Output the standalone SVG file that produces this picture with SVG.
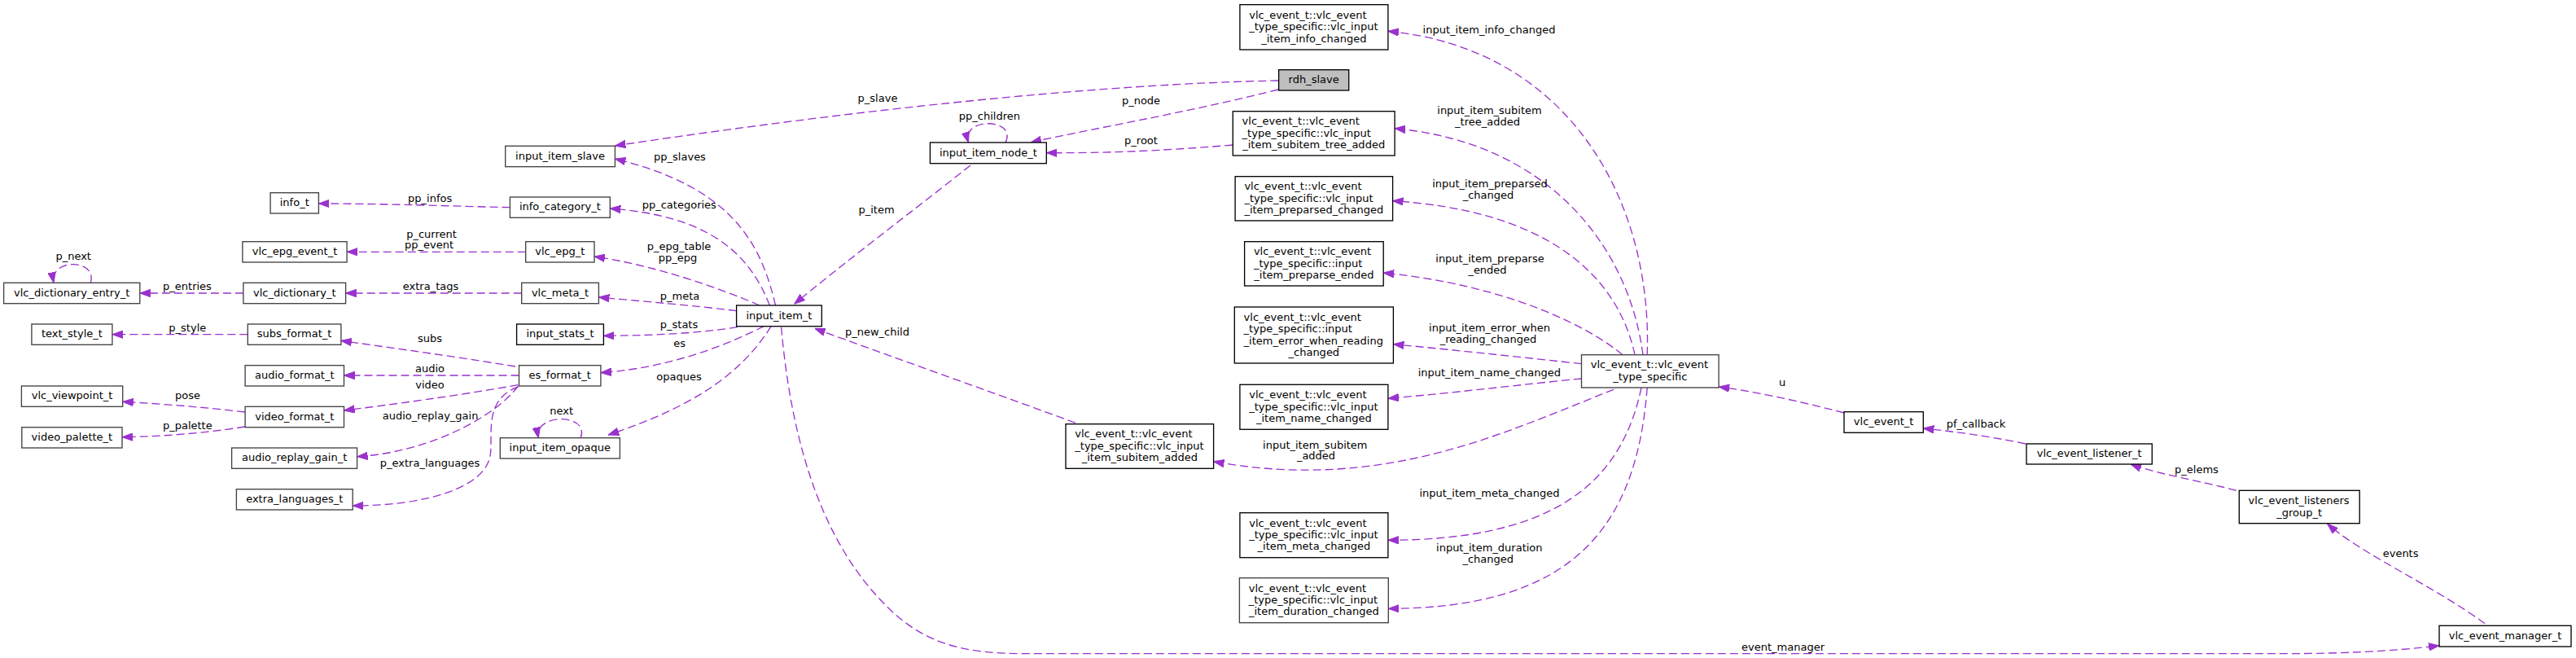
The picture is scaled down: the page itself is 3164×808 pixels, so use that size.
<svg xmlns="http://www.w3.org/2000/svg" width="3164" height="808" viewBox="0 0 3164 808">
<style>
text{font-family:"DejaVu Sans","Liberation Sans",sans-serif;font-size:13px;fill:#000}
.lbl{text-anchor:middle}
.c{text-anchor:middle}
.l{text-anchor:start}
.box{fill:#fff;stroke:#404040;stroke-width:1.33}
.bk{fill:#fff;stroke:#000;stroke-width:1.33}
.edge{fill:none;stroke:#9a32cd;stroke-width:1.33;stroke-dasharray:10,5;marker-end:url(#ah)}
</style>
<defs>
<marker id="ah" viewBox="0 0 13 10" refX="13" refY="5" markerWidth="13" markerHeight="10" markerUnits="userSpaceOnUse" orient="auto">
<path d="M0,0.3 L13,5 L0,9.7 z" fill="#9a32cd" stroke="#9a32cd" stroke-width="1"/>
</marker>
</defs>
<rect width="3164" height="808" fill="#fff"/>
<g id="edges">
<g id="e_p_slave"><path class="edge" d="M1570,99 C1350,103 1050,135 755.4,179"/><text class="lbl" x="1078" y="125">p_slave</text></g>
<g id="e_p_node"><path class="edge" d="M1570,110 C1450,140 1330,160 1266,175"/><text class="lbl" x="1401.5" y="128">p_node</text></g>
<g id="e_pp_children"><path class="edge" d="M1235,175 C1250,145 1180,143 1189.5,175"/><text class="lbl" x="1215.4" y="146.5">pp_children</text></g>
<g id="e_p_root"><path class="edge" d="M1514.3,178 C1420,186 1350,188 1285.3,187.7"/><text class="lbl" x="1401.5" y="176.5">p_root</text></g>
<g id="e_p_item"><path class="edge" d="M1192,203 C1120,260 1040,320 975.7,373.3"/><text class="lbl" x="1076.5" y="261.5">p_item</text></g>
<g id="e_pp_slaves"><path class="edge" d="M952.5,375 C935,300 900,230 755.4,195"/><text class="lbl" x="835" y="196.5">pp_slaves</text></g>
<g id="e_pp_categories"><path class="edge" d="M945.4,375 C920,310 870,265 749.3,256"/><text class="lbl" x="834.3" y="256">pp_categories</text></g>
<g id="e_p_epg"><path class="edge" d="M932.9,375 C880,352 800,325 730,315"/><text class="lbl" x="834" y="306.5">p_epg_table</text><text class="lbl" x="832.6" y="321">pp_epg</text></g>
<g id="e_p_meta"><path class="edge" d="M904.6,381.7 C850,375 790,370 735.4,365"/><text class="lbl" x="835" y="367.5">p_meta</text></g>
<g id="e_p_stats"><path class="edge" d="M906,401.7 C850,410 800,412 741.4,412.3"/><text class="lbl" x="834" y="402.5">p_stats</text></g>
<g id="e_es"><path class="edge" d="M938.2,400.7 C890,425 820,452 737.9,457.7"/><text class="lbl" x="834.6" y="426">es</text></g>
<g id="e_opaques"><path class="edge" d="M947.1,400.7 C910,460 850,500 747.1,534"/><text class="lbl" x="834" y="467">opaques</text></g>
<g id="e_next"><path class="edge" d="M713.2,537.7 C725,507 655,507 661.4,537.7"/><text class="lbl" x="689.7" y="509">next</text></g>
<g id="e_event_manager"><path class="edge" d="M959.6,401.7 C970,520 1000,650 1080,735 C1130,790 1180,802.7 1260,802.7 L2800,802.7 C2870,802.7 2940,800 2996,792.7"/><text class="lbl" x="2190" y="799">event_manager</text></g>
<g id="e_events"><path class="edge" d="M3052,765.7 C2990,720 2900,680 2858.7,643.3"/><text class="lbl" x="2948.6" y="684">events</text></g>
<g id="e_p_elems"><path class="edge" d="M2746.8,602.3 C2700,590 2650,582 2617,570"/><text class="lbl" x="2698" y="580.5">p_elems</text></g>
<g id="e_pf_callback"><path class="edge" d="M2488,545 C2440,535 2400,530 2362.3,526"/><text class="lbl" x="2427" y="525">pf_callback</text></g>
<g id="e_u"><path class="edge" d="M2265,507 C2200,490 2150,480 2111.1,475"/><text class="lbl" x="2189" y="474">u</text></g>
<g id="e_info_changed"><path class="edge" d="M2023.2,435.7 C2030,250 1930,60 1704.9,38.3"/><text class="lbl" x="1829" y="40.5">input_item_info_changed</text></g>
<g id="e_tree_added"><path class="edge" d="M2018,435.7 C2000,300 1900,175 1713.1,157.7"/><text class="lbl" x="1829.5" y="140">input_item_subitem</text><text class="lbl" x="1827" y="154">_tree_added</text></g>
<g id="e_preparsed"><path class="edge" d="M2008,435.7 C1985,330 1890,258 1710.6,246.7"/><text class="lbl" x="1830" y="230">input_item_preparsed</text><text class="lbl" x="1828" y="244">_changed</text></g>
<g id="e_preparse_ended"><path class="edge" d="M1993,435.7 C1950,400 1850,350 1699.2,335"/><text class="lbl" x="1830" y="322">input_item_preparse</text><text class="lbl" x="1827" y="336">_ended</text></g>
<g id="e_error"><path class="edge" d="M1942.5,446.7 C1880,440 1790,430 1711.4,422.7"/><text class="lbl" x="1829.5" y="406.5">input_item_error_when</text><text class="lbl" x="1827.9" y="420.5">_reading_changed</text></g>
<g id="e_name_changed"><path class="edge" d="M1942.5,465 C1870,472 1790,482 1704.9,489.3"/><text class="lbl" x="1829.3" y="462">input_item_name_changed</text></g>
<g id="e_subitem_added"><path class="edge" d="M1982,478.3 C1850,530 1700,605 1490.6,566.7"/><text class="lbl" x="1615.3" y="550.5">input_item_subitem</text><text class="lbl" x="1616.5" y="564">_added</text></g>
<g id="e_meta_changed"><path class="edge" d="M2016,476 C1990,600 1900,663 1704.9,663.3"/><text class="lbl" x="1829.5" y="610">input_item_meta_changed</text></g>
<g id="e_duration"><path class="edge" d="M2023.2,476 C2010,650 1930,747 1705.3,747.3"/><text class="lbl" x="1829.3" y="676.5">input_item_duration</text><text class="lbl" x="1827.7" y="690.8">_changed</text></g>
<g id="e_p_new_child"><path class="edge" d="M1320.8,519.3 C1220,482 1100,440 1000.7,403.3"/><text class="lbl" x="1077.5" y="411.5">p_new_child</text></g>
<g id="e_pp_infos"><path class="edge" d="M626.4,254.7 C550,253 470,250 391.4,250"/><text class="lbl" x="528.2" y="248">pp_infos</text></g>
<g id="e_p_current"><path class="edge" d="M645.7,309.3 L426.1,309.3"/><text class="lbl" x="530" y="291.5">p_current</text><text class="lbl" x="527" y="305">pp_event</text></g>
<g id="e_extra_tags"><path class="edge" d="M640.7,360 L424.6,360"/><text class="lbl" x="529" y="356">extra_tags</text></g>
<g id="e_p_entries"><path class="edge" d="M298.9,360 L171.8,360"/><text class="lbl" x="230" y="356">p_entries</text></g>
<g id="e_p_next"><path class="edge" d="M111.4,347.3 C120,317 60,317 66,347.3"/><text class="lbl" x="90.2" y="319">p_next</text></g>
<g id="e_p_style"><path class="edge" d="M304.3,410.7 L137.9,410.7"/><text class="lbl" x="230.3" y="406.5">p_style</text></g>
<g id="e_subs"><path class="edge" d="M632.9,450 C560,438 480,427 418.9,418.3"/><text class="lbl" x="528" y="420">subs</text></g>
<g id="e_audio"><path class="edge" d="M637.5,461 L422.5,461"/><text class="lbl" x="528" y="456.5">audio</text></g>
<g id="e_video"><path class="edge" d="M636.4,472.7 C560,486 480,497 422.5,504"/><text class="lbl" x="528" y="477">video</text></g>
<g id="e_audio_replay_gain"><path class="edge" d="M636.4,474 C610,510 530,555 438.6,560.7"/><text class="lbl" x="528.6" y="515">audio_replay_gain</text></g>
<g id="e_p_extra_languages"><path class="edge" d="M636.4,475 C595,490 605,530 602.5,556.7 C598,600 520,621 433.2,621"/><text class="lbl" x="528" y="573">p_extra_languages</text></g>
<g id="e_pose"><path class="edge" d="M301.1,506 C250,500 200,496 150.7,493.3"/><text class="lbl" x="230.5" y="490.4">pose</text></g>
<g id="e_p_palette"><path class="edge" d="M301.1,524 C250,532 200,536 150,536.7"/><text class="lbl" x="230.3" y="526.5">p_palette</text></g>
</g>
<g id="n_rdh_slave"><rect x="1570.6" y="85.7" width="86.1" height="25.3" fill="#bfbfbf" stroke="#000" stroke-width="1.33"/><text class="c" x="1613.65" y="102.15">rdh_slave</text></g>
<g id="n_input_item_slave"><rect class="box" x="620.7" y="179.3" width="134.7" height="25.4"/><text class="c" x="688.05" y="195.8">input_item_slave</text></g>
<g id="n_info_category_t"><rect class="box" x="626.4" y="242" width="122.9" height="25.3"/><text class="c" x="687.85" y="258.45">info_category_t</text></g>
<g id="n_vlc_epg_t"><rect class="box" x="645.7" y="296.7" width="84.3" height="25.3"/><text class="c" x="687.85" y="313.15">vlc_epg_t</text></g>
<g id="n_vlc_meta_t"><rect class="box" x="640.7" y="347.3" width="94.7" height="25.4"/><text class="c" x="688.05" y="363.8">vlc_meta_t</text></g>
<g id="n_input_item_t"><rect class="bk" x="904.6" y="375" width="104.7" height="25.7"/><text class="c" x="956.95" y="391.65">input_item_t</text></g>
<g id="n_input_stats_t"><rect class="bk" x="634.6" y="398" width="106.8" height="25.3"/><text class="c" x="688" y="414.45">input_stats_t</text></g>
<g id="n_es_format_t"><rect class="box" x="637.5" y="448.7" width="100.4" height="25.3"/><text class="c" x="687.7" y="465.15">es_format_t</text></g>
<g id="n_input_item_opaque"><rect class="box" x="614.3" y="537.7" width="147.1" height="25.3"/><text class="c" x="687.85" y="554.15">input_item_opaque</text></g>
<g id="n_input_item_node_t"><rect class="bk" x="1142.4" y="175" width="142.9" height="25.7"/><text class="c" x="1213.85" y="191.65">input_item_node_t</text></g>
<g id="n_info_t"><rect class="box" x="332.1" y="236.7" width="59.3" height="25.3"/><text class="c" x="361.75" y="253.15">info_t</text></g>
<g id="n_vlc_epg_event_t"><rect class="box" x="297.9" y="296.7" width="128.2" height="25.3"/><text class="c" x="362" y="313.15">vlc_epg_event_t</text></g>
<g id="n_vlc_dictionary_entry_t"><rect class="box" x="4.6" y="347.3" width="167.2" height="25.4"/><text class="c" x="88.2" y="363.8">vlc_dictionary_entry_t</text></g>
<g id="n_vlc_dictionary_t"><rect class="box" x="298.9" y="347.3" width="125.7" height="25.4"/><text class="c" x="361.75" y="363.8">vlc_dictionary_t</text></g>
<g id="n_text_style_t"><rect class="box" x="38.9" y="398" width="99" height="25.3"/><text class="c" x="88.4" y="414.45">text_style_t</text></g>
<g id="n_subs_format_t"><rect class="box" x="304.3" y="398" width="114.6" height="25.3"/><text class="c" x="361.6" y="414.45">subs_format_t</text></g>
<g id="n_audio_format_t"><rect class="box" x="301.1" y="448.7" width="121.4" height="25.3"/><text class="c" x="361.8" y="465.15">audio_format_t</text></g>
<g id="n_vlc_viewpoint_t"><rect class="box" x="26.4" y="474" width="124.3" height="25.3"/><text class="c" x="88.55" y="490.45">vlc_viewpoint_t</text></g>
<g id="n_video_format_t"><rect class="box" x="301.1" y="499.3" width="121.4" height="25.4"/><text class="c" x="361.8" y="515.8">video_format_t</text></g>
<g id="n_video_palette_t"><rect class="box" x="26.8" y="524.7" width="123.2" height="25.3"/><text class="c" x="88.4" y="541.15">video_palette_t</text></g>
<g id="n_audio_replay_gain_t"><rect class="box" x="284.6" y="550" width="154" height="25.3"/><text class="c" x="361.6" y="566.45">audio_replay_gain_t</text></g>
<g id="n_extra_languages_t"><rect class="box" x="290.4" y="600.7" width="142.8" height="25.3"/><text class="c" x="361.8" y="617.15">extra_languages_t</text></g>
<g id="n_info_changed"><rect class="bk" x="1522.9" y="5.7" width="182" height="55.3"/><text class="l" x="1534.2" y="22.75">vlc_event_t::vlc_event</text><text class="l" x="1534.2" y="37.15">_type_specific::vlc_input</text><text class="c" x="1613.9" y="51.55">_item_info_changed</text></g>
<g id="n_subitem_tree_added"><rect class="bk" x="1514.3" y="136.7" width="198.8" height="54.3"/><text class="l" x="1525.6" y="153.25">vlc_event_t::vlc_event</text><text class="l" x="1525.6" y="167.65">_type_specific::vlc_input</text><text class="c" x="1613.7" y="182.05">_item_subitem_tree_added</text></g>
<g id="n_preparsed_changed"><rect class="bk" x="1517.1" y="216.7" width="193.5" height="54.3"/><text class="l" x="1528.4" y="233.25">vlc_event_t::vlc_event</text><text class="l" x="1528.4" y="247.65">_type_specific::vlc_input</text><text class="c" x="1613.85" y="262.05">_item_preparsed_changed</text></g>
<g id="n_preparse_ended"><rect class="bk" x="1528.6" y="296.7" width="170.6" height="54.3"/><text class="l" x="1539.9" y="313.25">vlc_event_t::vlc_event</text><text class="l" x="1539.9" y="327.65">_type_specific::input</text><text class="c" x="1613.9" y="342.05">_item_preparse_ended</text></g>
<g id="n_error_when_reading_changed"><rect class="bk" x="1516.3" y="377" width="195.1" height="69"/><text class="l" x="1527.6" y="393.7">vlc_event_t::vlc_event</text><text class="l" x="1527.6" y="408.1">_type_specific::input</text><text class="l" x="1527.6" y="422.5">_item_error_when_reading</text><text class="c" x="1613.85" y="436.9">_changed</text></g>
<g id="n_name_changed"><rect class="bk" x="1522.9" y="472.3" width="182" height="55"/><text class="l" x="1534.2" y="489.2">vlc_event_t::vlc_event</text><text class="l" x="1534.2" y="503.6">_type_specific::vlc_input</text><text class="c" x="1613.9" y="518">_item_name_changed</text></g>
<g id="n_subitem_added"><rect class="bk" x="1309" y="520.7" width="181.6" height="54.6"/><text class="l" x="1320.3" y="537.4">vlc_event_t::vlc_event</text><text class="l" x="1320.3" y="551.8">_type_specific::vlc_input</text><text class="c" x="1399.8" y="566.2">_item_subitem_added</text></g>
<g id="n_meta_changed"><rect class="bk" x="1522.9" y="629.7" width="182" height="55"/><text class="l" x="1534.2" y="646.6">vlc_event_t::vlc_event</text><text class="l" x="1534.2" y="661">_type_specific::vlc_input</text><text class="c" x="1613.9" y="675.4">_item_meta_changed</text></g>
<g id="n_duration_changed"><rect class="box" x="1522.4" y="709.7" width="182.9" height="55"/><text class="l" x="1533.7" y="726.6">vlc_event_t::vlc_event</text><text class="l" x="1533.7" y="741">_type_specific::vlc_input</text><text class="c" x="1613.85" y="755.4">_item_duration_changed</text></g>
<g id="n_type_specific"><rect class="box" x="1942.5" y="435.7" width="168.6" height="40.3"/><text class="l" x="1953.8" y="452.45">vlc_event_t::vlc_event</text><text class="c" x="2026.8" y="466.85">_type_specific</text></g>
<g id="n_vlc_event_t"><rect class="bk" x="2265" y="505.7" width="97.3" height="25.6"/><text class="c" x="2313.65" y="522.3">vlc_event_t</text></g>
<g id="n_vlc_event_listener_t"><rect class="bk" x="2489" y="545" width="154.3" height="25"/><text class="c" x="2566.15" y="561.3">vlc_event_listener_t</text></g>
<g id="n_vlc_event_listeners_group_t"><rect class="bk" x="2750.3" y="602.3" width="147.9" height="40.4"/><text class="l" x="2761.6" y="619.1">vlc_event_listeners</text><text class="c" x="2824.25" y="633.5">_group_t</text></g>
<g id="n_vlc_event_manager_t"><rect class="bk" x="2996" y="768.3" width="162" height="25.7"/><text class="c" x="3077" y="784.95">vlc_event_manager_t</text></g>
</svg>
